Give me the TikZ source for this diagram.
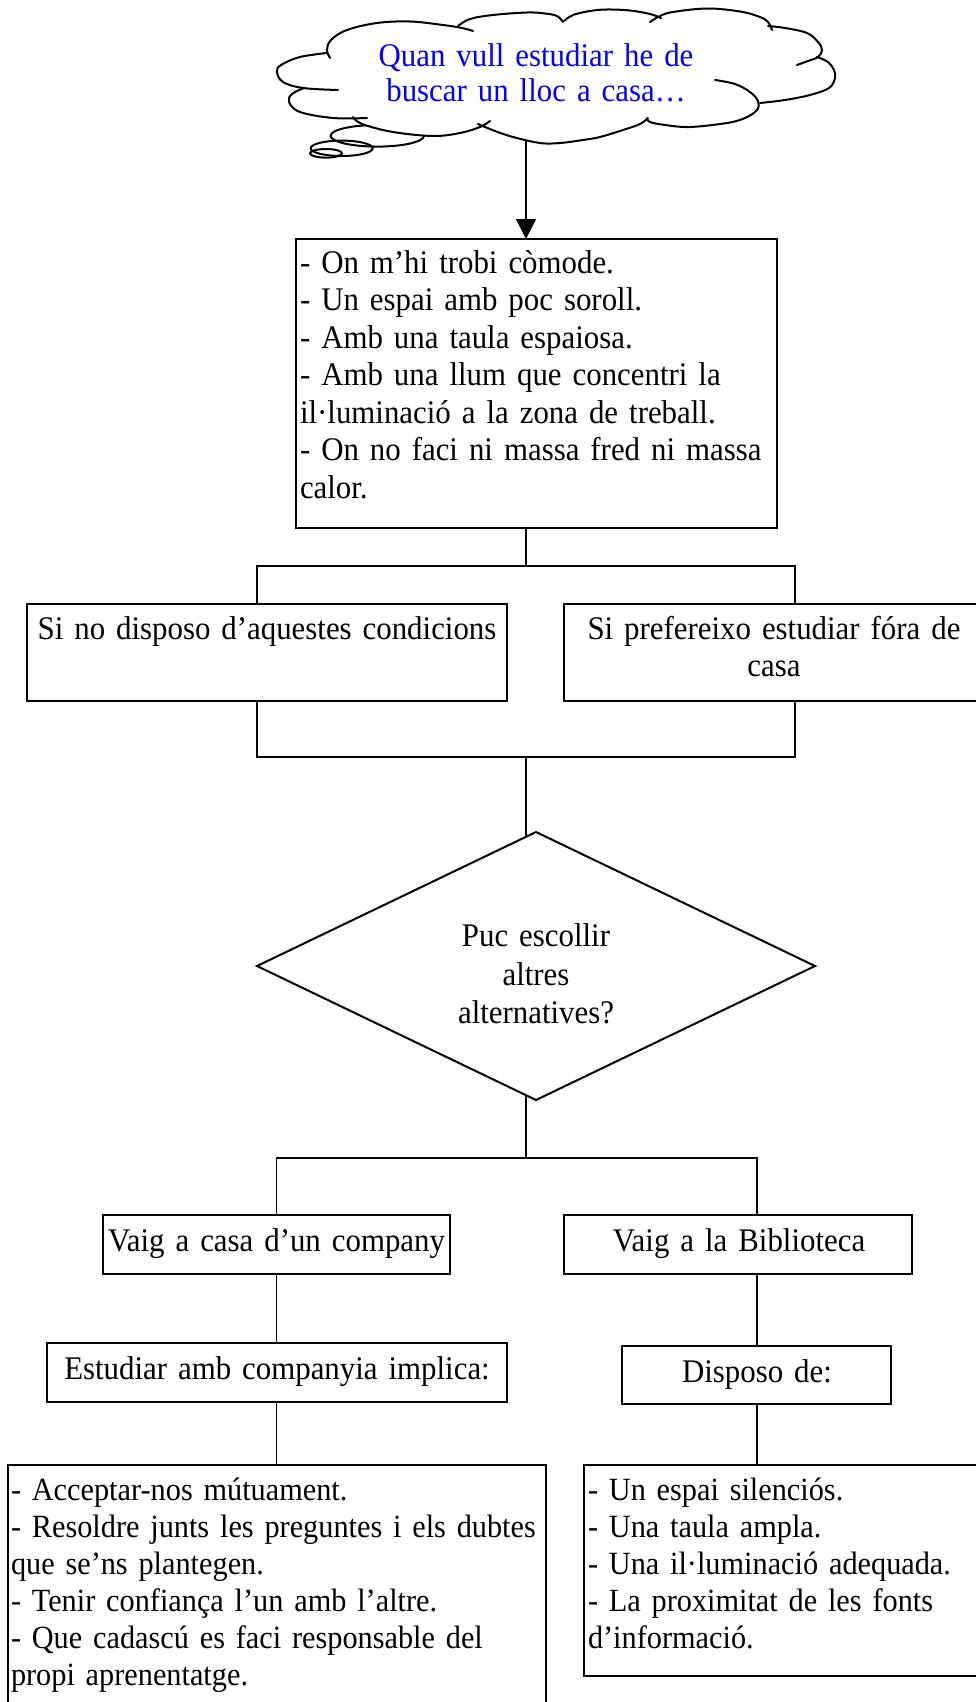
\documentclass[tikz,border=0pt]{standalone}
\usepackage{fontspec}
\setmainfont[FakeStretch=0.935,WordSpace=0.88]{Liberation Serif}
\usetikzlibrary{arrows.meta,shapes.geometric,calc}
\definecolor{cloudblue}{rgb}{0,0,1}
\newcommand\fsA{\fontsize{33}{37.5}\selectfont}
\newcommand\fsB{\fontsize{32.4}{37}\selectfont}
\newcommand\fsC{\fontsize{33}{35}\selectfont}
\newcommand\fsD{\fontsize{33}{38.3}\selectfont}
\begin{document}
\begin{tikzpicture}[x=1pt,y=-1pt,
  box/.style={draw, line width=2pt, inner sep=0pt, outer sep=0pt},
  link/.style={line width=1.6pt},
  cloudline/.style={line width=2pt, line join=round, line cap=round},
  txt/.style={inner sep=0pt, outer sep=0pt},
  ltxt/.style={txt, anchor=north west, align=left},
  ctxt/.style={txt, anchor=north, align=center}]
\clip (0,0) rectangle (976,1702);
\fill[white] (0,0) rectangle (976,1702);

% ---------- cloud ----------
\draw[cloudline] (377.3,135.8) ellipse [x radius=46.7, y radius=10.8];
\draw[cloudline] (341.7,148.3) ellipse [x radius=31, y radius=7.7];
\draw[cloudline] (326,153.3) ellipse [x radius=16, y radius=4.3];
\fill[white] plot[smooth cycle, tension=0.6] coordinates {(327,50) (347,30) (410,21.5) (470,19) (527,12.5) (560,15) (607,9.5) (660,16) (707,8.5) (768,22) (807,33) (822,50) (835,78) (829,88) (760,103) (745,118) (690,127) (650,122) (600,137) (540,143) (495,131) (433,136) (362,124) (333,118) (289,102) (292,94) (277,72) (300,57)};
\draw[cloudline] plot[smooth, tension=0.6] coordinates {(330,58) (327,50) (331,40) (347,30) (377,23) (410,21.5) (443,25) (462,28) (473,31)};
\draw[cloudline] plot[smooth, tension=0.6] coordinates {(458,26) (470,19) (493,15) (527,12.5) (545,13.5) (557,16) (563,22)};
\draw[cloudline] plot[smooth, tension=0.6] coordinates {(564,21) (573,15) (590,11) (607,9.5) (630,10.5) (650,14) (661,18)};
\draw[cloudline] plot[smooth, tension=0.6] coordinates {(650,22) (660,16) (673,12) (707,8.5) (740,11.5) (760,17) (768,22) (772,30)};
\draw[cloudline] plot[smooth, tension=0.6] coordinates {(768,26) (785,28) (807,33) (818,42) (822,50) (818,57) (808,61) (797,65)};
\draw[cloudline] plot[smooth, tension=0.6] coordinates {(817,57) (828,62) (834,70) (835,78) (829,88) (810,95) (785,100) (760,103)};
\draw[cloudline] plot[smooth, tension=0.6] coordinates {(715,80) (735,84) (750,92) (758,101) (757,110) (745,118) (727,123) (690,127) (665,125) (650,122) (647,118)};
\draw[cloudline] plot[smooth, tension=0.6] coordinates {(648,118) (640,124) (623,130) (600,137) (583,140) (560,143) (540,143) (513,137) (495,131) (478,124)};
\draw[cloudline] plot[smooth, tension=0.6] coordinates {(353,117) (362,124) (393,132) (433,136) (460,133) (480,127) (490,121)};
\draw[cloudline] plot[smooth, tension=0.6] coordinates {(304,88) (292,94) (289,102) (300,112) (333,118) (367,118)};
\draw[cloudline] plot[smooth, tension=0.6] coordinates {(327,53) (300,57) (281,65) (277,72) (283,82) (303,88) (338,90)};
\node[ctxt, text width=420pt, font=\fsC, text=cloudblue] (Ct) at (536,42.2)
  {\strut Quan vull estudiar he de\\buscar un lloc a casa…};
\coordinate (cb) at (526,141);

% ---------- boxes ----------
\node[box, anchor=north west, minimum width=481pt, minimum height=289pt] (T) at (296,239) {};
\node[box, anchor=north west, minimum width=480pt, minimum height=97pt] (L1) at (27,604) {};
\node[box, anchor=north west, minimum width=430pt, minimum height=97pt] (R1) at (564,604) {};
\node[box, diamond, minimum width=558pt, minimum height=268pt] (D) at (536,966) {};
\node[box, anchor=north west, minimum width=347pt, minimum height=59pt] (V1) at (103,1215) {};
\node[box, anchor=north west, minimum width=348pt, minimum height=59pt] (V2) at (564,1215) {};
\node[box, anchor=north west, minimum width=460pt, minimum height=59pt] (E1) at (47,1343) {};
\node[box, anchor=north west, minimum width=269pt, minimum height=58pt] (D2) at (622,1346) {};
\node[box, anchor=north west, minimum width=538pt, minimum height=260pt] (B1) at (8,1465) {};
\node[box, anchor=north west, minimum width=410pt, minimum height=211pt] (B2) at (584,1465) {};

% ---------- texts ----------
\node[ltxt, text width=470pt, font=\fsA] (Tt) at (300,246.75)
  {\strut- On m’hi trobi còmode.\\- Un espai amb poc soroll.\\- Amb una taula espaiosa.\\- Amb una llum que concentri la\\il·luminació a la zona de treball.\\- On no faci ni massa fred ni massa\\calor.};
\node[ctxt, text width=476pt, font=\fsA] (L1t) at (267,612.75)
  {\strut Si no disposo d’aquestes condicions};
\node[ctxt, text width=420pt, font=\fsA] (R1t) at (774,612.75)
  {\strut Si prefereixo estudiar fóra de\\casa};
\node[ctxt, text width=300pt, font=\fsD] (Dt) at (536,919.9)
  {\strut Puc escollir\\altres\\alternatives?};
\node[ctxt, text width=400pt, font=\fsA] (V1t) at (276.5,1224.75)
  {\strut Vaig a casa d’un company};
\node[ctxt, text width=340pt, font=\fsA] (V2t) at (739,1224.75)
  {\strut Vaig a la Biblioteca};
\node[ctxt, text width=456pt, font=\fsA] (E1t) at (277,1352.75)
  {\strut Estudiar amb companyia implica:};
\node[ctxt, text width=260pt, font=\fsA] (D2t) at (757,1355.75)
  {\strut Disposo de:};
\node[ltxt, text width=560pt, font=\fsB] (B1t) at (11,1474.1)
  {\strut- Acceptar-nos mútuament.\\- Resoldre junts les preguntes i els dubtes\\que se’ns plantegen.\\- Tenir confiança l’un amb l’altre.\\- Que cadascú es faci responsable del\\propi aprenentatge.};
\node[ltxt, text width=400pt, font=\fsB] (B2t) at (588,1474.1)
  {\strut- Un espai silenciós.\\- Una taula ampla.\\- Una il·luminació adequada.\\- La proximitat de les fonts\\d’informació.};

% ---------- connectors ----------
\coordinate (ax) at (526,0);
\coordinate (j1) at (526,566);
\coordinate (j1l) at (257,566);
\coordinate (j1r) at (795,566);
\coordinate (j2) at (526,757);
\coordinate (j2l) at (257,757);
\coordinate (j2r) at (795,757);
\coordinate (j3) at (526,1158);
\coordinate (j3l) at (276.5,1158);
\coordinate (j3r) at (757,1158);

\draw[link, -{Triangle[width=20pt,length=20pt]}] (cb) -- (ax |- T.north);
\draw[link] (ax |- T.south) -- (j1);
\draw[link] (j1l |- L1.north) -- (j1l) -- (j1r) -- (j1r |- R1.north);
\draw[link] (j2l |- L1.south) -- (j2l) -- (j2r) -- (j2r |- R1.south);
\draw[link] (j2) -- ($(D.north)!10/279!(D.west)$);
\draw[link] ($(D.south)!10/279!(D.west)$) -- (j3);
\draw[link] (j3l |- V1.north) -- (j3l) -- (j3r) -- (j3r |- V2.north);
\draw[link] (j3l |- V1.south) -- (j3l |- E1.north);
\draw[link] (j3r |- V2.south) -- (j3r |- D2.north);
\draw[link] (j3l |- E1.south) -- (j3l |- B1.north);
\draw[link] (j3r |- D2.south) -- (j3r |- B2.north);
\end{tikzpicture}
\end{document}
